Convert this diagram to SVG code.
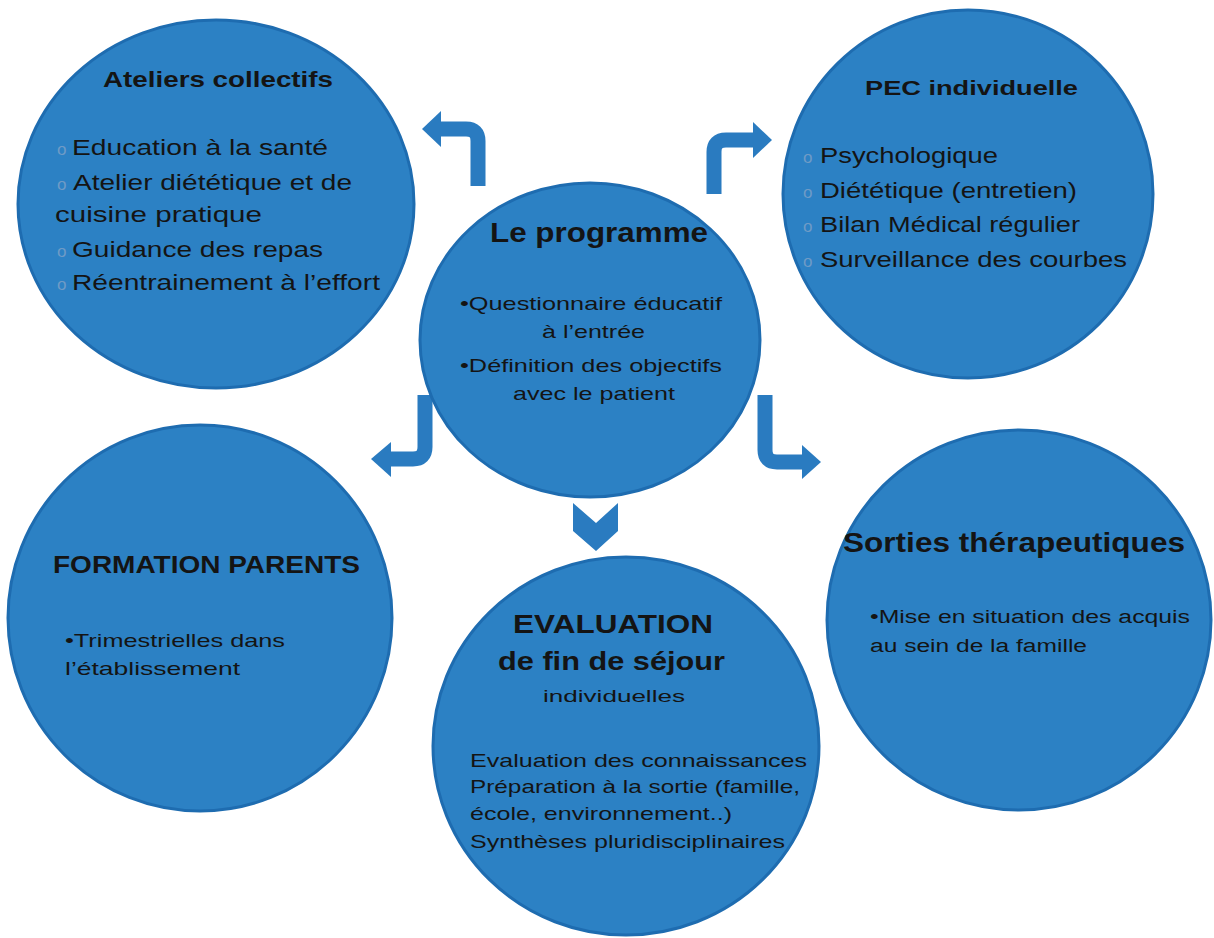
<svg xmlns="http://www.w3.org/2000/svg" width="1214" height="938" viewBox="0 0 1214 938">
<style>
.node{fill:#2c81c4;stroke:#1e6cb0;stroke-width:3}
.t{font-family:"Liberation Sans",Arial,sans-serif;fill:#141414}
.b{font-weight:bold}
.o{font-family:"Liberation Sans",Arial,sans-serif;fill:#6f9bc6;font-size:17px}
.shaft{fill:none;stroke:#2a7bc0;stroke-width:15}
.head{fill:#2a7bc0}
</style>
<rect width="1214" height="938" fill="#ffffff"/>
<g id="connectors">
<path class="shaft" d="M478,186 V141 Q478,129 466,129 H440"/>
<polygon class="head" points="441,111 422,129 441,147"/>
<path class="shaft" d="M714,194 V152 Q714,140 726,140 H754"/>
<polygon class="head" points="753,122 772,140 753,158"/>
<path class="shaft" d="M425,395 V447 Q425,459 413,459 H390"/>
<polygon class="head" points="391,442 371,459 391,477"/>
<path class="shaft" d="M765,395 V450 Q765,462 777,462 H803"/>
<polygon class="head" points="802,445 821,462 802,479"/>
<polygon class="head" points="573,503 596,523 618,503 618,531 596,551 573,531"/>
</g>
<g id="ateliers">
<ellipse class="node" cx="216" cy="204" rx="198" ry="184"/>
<text class="t b" x="103" y="87" font-size="22" textLength="230" lengthAdjust="spacingAndGlyphs">Ateliers collectifs</text>
<text class="o" x="57" y="155">o</text>
<text class="t" x="72" y="155" font-size="22" textLength="256" lengthAdjust="spacingAndGlyphs">Education à la santé</text>
<text class="o" x="57" y="190">o</text>
<text class="t" x="73" y="190" font-size="22" textLength="279" lengthAdjust="spacingAndGlyphs">Atelier diététique et de</text>
<text class="t" x="55" y="222" font-size="22" textLength="207" lengthAdjust="spacingAndGlyphs">cuisine pratique</text>
<text class="o" x="57" y="257">o</text>
<text class="t" x="72" y="257" font-size="22" textLength="251" lengthAdjust="spacingAndGlyphs">Guidance des repas</text>
<text class="o" x="57" y="290">o</text>
<text class="t" x="72" y="290" font-size="22" textLength="308" lengthAdjust="spacingAndGlyphs">Réentrainement à l’effort</text>
</g>
<g id="pec">
<ellipse class="node" cx="968" cy="194" rx="185" ry="184"/>
<text class="t b" x="865" y="95" font-size="21" textLength="213" lengthAdjust="spacingAndGlyphs">PEC individuelle</text>
<text class="o" x="803" y="163">o</text>
<text class="t" x="820" y="163" font-size="22" textLength="178" lengthAdjust="spacingAndGlyphs">Psychologique</text>
<text class="o" x="803" y="198">o</text>
<text class="t" x="820" y="198" font-size="22" textLength="257" lengthAdjust="spacingAndGlyphs">Diététique (entretien)</text>
<text class="o" x="803" y="232">o</text>
<text class="t" x="820" y="232" font-size="22" textLength="260" lengthAdjust="spacingAndGlyphs">Bilan Médical régulier</text>
<text class="o" x="803" y="267">o</text>
<text class="t" x="820" y="267" font-size="22" textLength="307" lengthAdjust="spacingAndGlyphs">Surveillance des courbes</text>
</g>
<g id="programme">
<ellipse class="node" cx="590" cy="340" rx="170" ry="157"/>
<text class="t b" x="490" y="242" font-size="27" textLength="218" lengthAdjust="spacingAndGlyphs">Le programme</text>
<text class="t" x="460" y="310" font-size="19" textLength="262" lengthAdjust="spacingAndGlyphs">•Questionnaire éducatif</text>
<text class="t" x="542" y="338" font-size="19" textLength="103" lengthAdjust="spacingAndGlyphs">à l’entrée</text>
<text class="t" x="460" y="372" font-size="19" textLength="262" lengthAdjust="spacingAndGlyphs">•Définition des objectifs</text>
<text class="t" x="513" y="400" font-size="19" textLength="162" lengthAdjust="spacingAndGlyphs">avec le patient</text>
</g>
<g id="formation">
<ellipse class="node" cx="200" cy="618" rx="192" ry="193"/>
<text class="t b" x="53" y="573" font-size="24" textLength="307" lengthAdjust="spacingAndGlyphs">FORMATION PARENTS</text>
<text class="t" x="65" y="647" font-size="19" textLength="220" lengthAdjust="spacingAndGlyphs">•Trimestrielles dans</text>
<text class="t" x="65" y="675" font-size="19" textLength="175" lengthAdjust="spacingAndGlyphs">l’établissement</text>
</g>
<g id="evaluation">
<ellipse class="node" cx="626" cy="746" rx="193" ry="189"/>
<text class="t b" x="513" y="633" font-size="26" textLength="200" lengthAdjust="spacingAndGlyphs">EVALUATION</text>
<text class="t b" x="498" y="670" font-size="26" textLength="227" lengthAdjust="spacingAndGlyphs">de fin de séjour</text>
<text class="t" x="543" y="702" font-size="17" textLength="142" lengthAdjust="spacingAndGlyphs">individuelles</text>
<text class="t" x="470" y="767" font-size="19" textLength="337" lengthAdjust="spacingAndGlyphs">Evaluation des connaissances</text>
<text class="t" x="470" y="793" font-size="19" textLength="330" lengthAdjust="spacingAndGlyphs">Préparation à la sortie (famille,</text>
<text class="t" x="470" y="820" font-size="19" textLength="262" lengthAdjust="spacingAndGlyphs">école, environnement..)</text>
<text class="t" x="470" y="848" font-size="19" textLength="315" lengthAdjust="spacingAndGlyphs">Synthèses pluridisciplinaires</text>
</g>
<g id="sorties">
<ellipse class="node" cx="1019" cy="620" rx="192" ry="190"/>
<text class="t b" x="843" y="552" font-size="28" textLength="342" lengthAdjust="spacingAndGlyphs">Sorties thérapeutiques</text>
<text class="t" x="870" y="623" font-size="18" textLength="320" lengthAdjust="spacingAndGlyphs">•Mise en situation des acquis</text>
<text class="t" x="870" y="652" font-size="18" textLength="217" lengthAdjust="spacingAndGlyphs">au sein de la famille</text>
</g>
</svg>
